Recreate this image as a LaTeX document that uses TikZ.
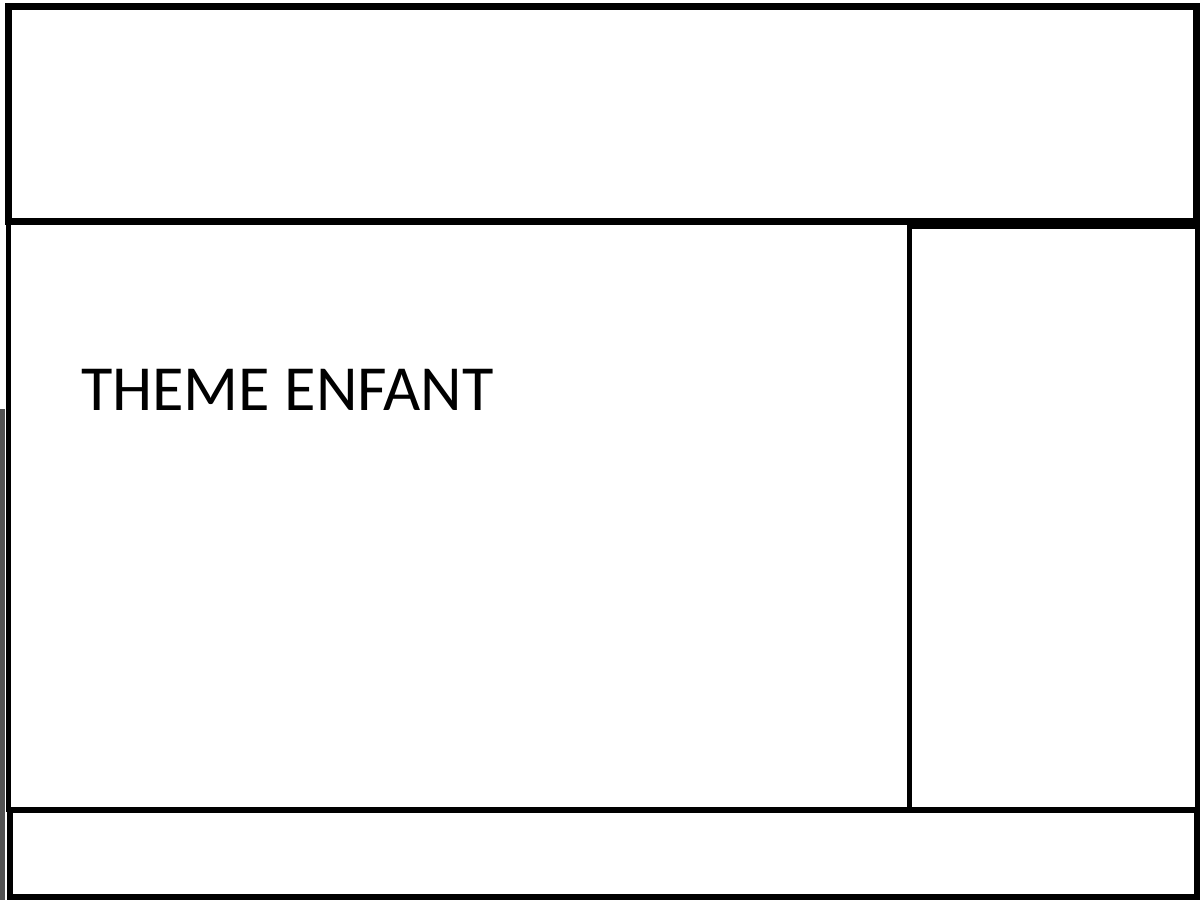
\documentclass[tikz,border=0pt]{standalone}
\usepackage{fontspec}
\setmainfont{Carlito}
\begin{document}
\begin{tikzpicture}[x=1pt,y=-1pt,
  frame/.style={draw=black,line width=5.5pt,line join=miter},
  label/.style={inner sep=0pt,font=\fontsize{64.3}{70}\selectfont}]
\useasboundingbox (0,0) rectangle (1200,900);
\fill[white] (0,0) rectangle (1200,900);
% dark strip along the lower left edge
\fill[black!68] (0,409) rectangle (5,900);
% header
\draw[frame,line width=6.5pt] (8.5,6.5) rectangle (1196.5,221.5);
% content area
\draw[frame] (8.5,221.5) rectangle (909.5,809.5);
% sidebar
\draw[frame,line width=5pt] (909.5,226) rectangle (1197.5,809.5);
% footer
\draw[frame,line width=6pt] (10,810) rectangle (1196.5,897);
\node[label,anchor=base west] (theme) at (81,410) {THEME ENFANT};
\end{tikzpicture}
\end{document}
